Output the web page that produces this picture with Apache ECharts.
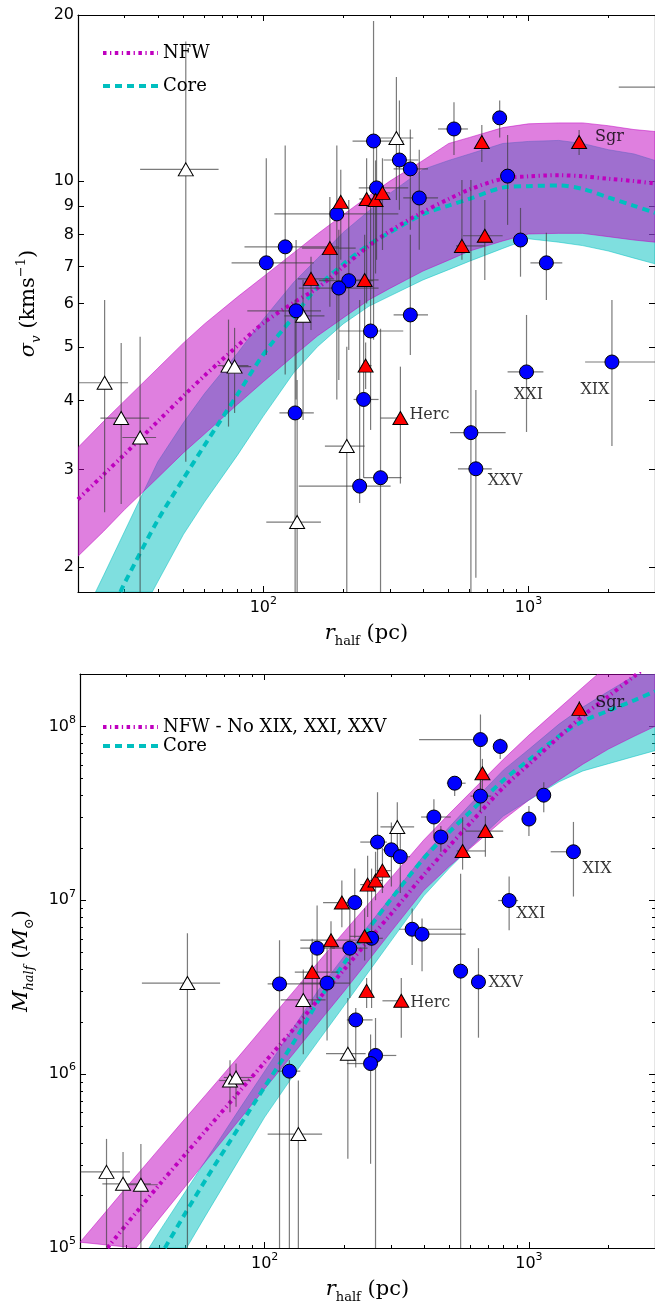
<!DOCTYPE html>
<html>
<head>
<meta charset="utf-8">
<script src="https://cdn.jsdelivr.net/npm/echarts@6/dist/echarts.min.js"></script>
<style>
  html, body { margin: 0; padding: 0; background: #fff; }
  #main { width: 655px; height: 1305px; }
</style>
</head>
<body>
<div id="main"></div>
<script>
// ---------- values ----------
// r_half grid (pc) for the model bands
var rGrid = [20, 25, 30, 40, 50, 60, 80, 100, 130, 160, 200, 250, 300, 400, 500, 600, 800, 1000, 1300, 1600, 2000, 2500, 3000];

// top panel, sigma_v (km/s)
var sigNfwHi  = [3.29, 3.67, 4.00, 4.58, 5.09, 5.51, 6.17, 6.71, 7.41, 8.02, 8.69, 9.40, 10.0, 10.9, 11.7, 12.0, 12.5, 12.7, 12.75, 12.75, 12.6, 12.4, 12.3];
var sigNfwMid = [2.65, 2.94, 3.20, 3.67, 4.08, 4.44, 5.03, 5.53, 6.02, 6.40, 6.99, 7.63, 8.12, 8.79, 9.28, 9.66, 10.1, 10.2, 10.25, 10.2, 10.1, 10.0, 9.9];
var sigNfwLo  = [2.09, 2.32, 2.54, 2.90, 3.22, 3.48, 3.94, 4.33, 4.82, 5.24, 5.65, 6.09, 6.39, 6.87, 7.19, 7.47, 7.79, 8.02, 8.04, 8.04, 7.93, 7.82, 7.75];

var rCoreHiTop  = [23.3, 25, 30, 40, 50, 60, 80, 100, 130, 160, 200, 250, 300, 400, 500, 600, 800, 1000, 1300, 1600, 2000, 2500, 3000];
var sigCoreHi   = [1.80, 1.93, 2.32, 3.10, 3.65, 4.12, 4.88, 5.62, 6.55, 7.24, 8.07, 8.83, 9.50, 10.5, 10.9, 11.2, 11.7, 11.8, 11.85, 11.7, 11.4, 11.2, 10.9];
var rCoreMidTop = [28.9, 30, 40, 50, 60, 80, 100, 130, 160, 200, 250, 300, 400, 500, 600, 800, 1000, 1300, 1600, 2000, 2500, 3000];
var sigCoreMid  = [1.80, 1.87, 2.43, 2.89, 3.32, 4.11, 4.85, 5.68, 6.42, 7.07, 7.67, 8.07, 8.71, 9.03, 9.29, 9.73, 9.79, 9.82, 9.68, 9.34, 9.02, 8.76];
var rCoreLoTop  = [38.1, 40, 50, 60, 80, 100, 130, 160, 200, 250, 300, 400, 500, 600, 800, 1000, 1300, 1600, 2000, 2500, 3000];
var sigCoreLo   = [1.80, 1.88, 2.29, 2.62, 3.19, 3.75, 4.49, 5.01, 5.51, 5.93, 6.19, 6.62, 6.91, 7.16, 7.55, 7.86, 7.75, 7.64, 7.47, 7.25, 7.08];

// bottom panel, M_half (Msun)
var mNfwHi = [1.08e5, 1.61e5, 2.24e5, 3.74e5, 5.55e5, 7.64e5, 1.27e6, 1.90e6, 3.05e6, 4.43e6, 6.59e6, 9.74e6, 1.34e7, 2.22e7, 3.15e7, 4.16e7, 6.46e7, 8.91e7, 1.27e8, 1.68e8, 2.26e8, 3.0e8, 3.8e8];
var rNfwMidBot = [25.4, 30, 40, 50, 60, 80, 100, 130, 160, 200, 250, 300, 400, 500, 600, 800, 1000, 1300, 1600, 2000, 2500, 3000];
var mNfwMid    = [1.0e5, 1.37e5, 2.32e5, 3.45e5, 4.76e5, 7.9e5, 1.17e6, 1.85e6, 2.7e6, 4.0e6, 6.0e6, 8.3e6, 1.4e7, 2.05e7, 2.78e7, 4.45e7, 6.05e7, 8.7e7, 1.15e8, 1.49e8, 1.94e8, 2.4e8];
var rNfwLoBot  = [32.6, 40, 50, 60, 80, 100, 130, 160, 200, 250, 300, 400, 500, 600, 800, 1000, 1300, 1600, 2000, 2500, 3000];
var mNfwLo     = [1.0e5, 1.48e5, 2.25e5, 3.17e5, 5.43e5, 8.24e5, 1.34e6, 1.98e6, 3.0e6, 4.61e6, 6.56e6, 1.14e7, 1.57e7, 1.99e7, 2.9e7, 3.77e7, 4.91e7, 6.06e7, 7.4e7, 8.76e7, 1.0e8];

var rCoreHiBot  = [36.5, 40, 50, 60, 80, 100, 130, 160, 200, 250, 300, 400, 500, 600, 800, 1000, 1300, 1600, 2000, 2500, 3000];
var mCoreHi     = [1.0e5, 1.25e5, 2.1e5, 3.21e5, 6.25e5, 1.04e6, 1.9e6, 3.06e6, 4.77e6, 7.33e6, 1.04e7, 1.81e7, 2.64e7, 3.56e7, 5.6e7, 7.38e7, 1.03e8, 1.29e8, 1.59e8, 1.95e8, 2.31e8];
var rCoreMidBot = [41.9, 50, 60, 80, 100, 130, 160, 200, 250, 300, 400, 500, 600, 800, 1000, 1300, 1600, 2000, 2500, 3000];
var mCoreMid    = [1.0e5, 1.58e5, 2.49e5, 4.97e5, 8.46e5, 1.56e6, 2.65e6, 4.35e6, 7.0e6, 1.01e7, 1.74e7, 2.47e7, 3.23e7, 4.9e7, 6.4e7, 8.79e7, 1.07e8, 1.23e8, 1.41e8, 1.59e8];
var rCoreLoBot  = [50.6, 60, 80, 100, 130, 160, 200, 250, 300, 400, 500, 600, 800, 1000, 1300, 1600, 2000, 2500, 3000];
var mCoreLo     = [1.0e5, 1.55e5, 3.22e5, 5.66e5, 1.01e6, 1.56e6, 2.48e6, 3.96e6, 5.8e6, 1.06e7, 1.53e7, 2.02e7, 3.05e7, 3.76e7, 4.8e7, 5.54e7, 6.1e7, 6.71e7, 7.25e7];

// galaxies: [r, value, rLo, rHi, valueLo, valueHi]
var topBlue = [
  [102.6, 7.11, 75.9, 155, 4.84, 11.0], [120.9, 7.60, 84.9, 192.6, 4.46, 11.6],
  [132.9, 5.82, 87, 165, 4.02, 7.82], [131.8, 3.80, 115, 155, 1.5, 6.09],
  [189.3, 8.72, 110, 323, 4.02, 11.6], [260.4, 11.82, 217, 338, 5.16, 19.5],
  [326, 10.92, 284, 384, 8.87, 14.0], [358.4, 10.52, 310, 418, 8.16, 12.4],
  [267.3, 9.72, 229, 352, 7.2, 11.9], [387.3, 9.32, 337, 456, 7.51, 11.4],
  [210, 6.60, 162, 260, 4.94, 9.24], [192.6, 6.40, 136, 272, 4.36, 8.16],
  [358.4, 5.72, 310, 418, 4.84, 7.99], [253.8, 5.35, 193, 337, 3.54, 9.24],
  [238.9, 4.02, 219, 272, 2.90, 5.37], [230.8, 2.80, 136, 302, 2.61, 6.09],
  [276.7, 2.90, 239, 332, 1.5, 5.4], [606.5, 3.50, 506, 820, 1.5, 10.05],
  [633.2, 3.01, 542, 727, 1.91, 4.18], [983, 4.51, 834, 1138, 3.51, 5.72],
  [2064, 4.70, 1635, 3042, 3.31, 6.09], [523.6, 12.43, 456, 591, 11.15, 13.9],
  [778.6, 13.02, 778.6, 778.6, 12.0, 14.0], [834, 10.21, 834, 834, 8.33, 12.12],
  [933, 7.82, 933, 933, 6.71, 8.94], [1168, 7.11, 1017, 1341, 6.09, 8.06],
  [4000, 14.8, 2190, 7000, 14.8, 14.8]
];
var topRed = [
  [195.9, 9.17, 195.9, 195.9, 7.2, 10.48], [245.2, 9.28, 230, 262, 6.0, 11.0],
  [265.0, 9.24, 250, 280, 6.8, 10.9], [281.4, 9.52, 265, 300, 7.5, 11.0],
  [178.2, 7.56, 140, 223, 5.92, 9.36], [151.3, 6.65, 135, 185, 5.37, 7.29],
  [241.0, 6.62, 216, 272, 5.37, 7.99], [666.8, 11.77, 666.8, 666.8, 10.83, 12.64],
  [1552, 11.77, 1552, 1552, 11.15, 12.38], [561, 7.63, 533, 684, 7.2, 10.05],
  [684.3, 7.96, 566, 799, 6.62, 9.24], [243.1, 4.63, 235, 256, 4.2, 5.1],
  [328.8, 3.72, 276.7, 328.8, 2.83, 4.61]
];
var topWhite = [
  [25.2, 4.31, 20.1, 30.9, 2.51, 6.09], [29.1, 3.72, 24.3, 37.1, 2.60, 5.09],
  [34.3, 3.43, 29.4, 39.4, 1.5, 5.22], [51.0, 10.5, 34.3, 67.8, 3.10, 17.9],
  [73.9, 4.63, 67.3, 87.9, 3.59, 5.61], [77.9, 4.61, 70, 90, 3.80, 5.42],
  [134.1, 2.41, 102.6, 164.9, 1.5, 4.36], [141.2, 5.70, 120, 170, 3.69, 6.62],
  [206.4, 3.31, 170.7, 241, 1.5, 5.01], [317.6, 11.97, 274.2, 367.8, 9.24, 15.44]
];

var botBlue = [
  [113.8, 3.30e6, 102.6, 176.7, 5e4, 5.89e6], [157.9, 5.30e6, 136.4, 184.5, 2.74e6, 9.33e6],
  [172.2, 3.34e6, 136.4, 210, 1.56e6, 5.30e6], [210, 5.30e6, 180, 245, 2.74e6, 1.02e7],
  [219.2, 9.70e6, 219.2, 219.2, 6.04e6, 1.52e7], [253.8, 6.04e6, 230, 280, 2.40e6, 1.52e7],
  [267.3, 2.16e7, 230, 290, 1.4e7, 4.18e7], [301.6, 1.95e7, 280, 325, 1.2e7, 2.8e7],
  [326, 1.78e7, 300, 355, 1.1e7, 2.6e7], [361.4, 6.81e6, 323.2, 556.3, 4.24e6, 8.97e6],
  [394, 6.38e6, 361.4, 575.9, 3.91e6, 7.86e6], [436.9, 3.01e7, 390.7, 506, 2.34e7, 3.81e7],
  [464.2, 2.31e7, 464.2, 464.2, 1.90e7, 2.67e7], [523.6, 4.71e7, 488.9, 575.9, 3.97e7, 5.16e7],
  [655.5, 8.39e7, 384, 661, 3.97e7, 1.17e8], [778.6, 7.66e7, 778.6, 778.6, 6.5e7, 8.5e7],
  [655.5, 3.97e7, 601, 720, 3.21e7, 4.96e7], [1138, 4.02e7, 1138, 1138, 3.21e7, 4.77e7],
  [1000, 2.93e7, 1000, 1000, 2.34e7, 3.48e7], [1474, 1.90e7, 1209, 1566, 1.05e7, 2.82e7],
  [841.6, 9.96e6, 765, 910, 6.71e6, 1.37e7], [551.4, 3.91e6, 551.4, 551.4, 5e4, 1.42e7],
  [644.2, 3.39e6, 644.2, 644.2, 1.62e6, 5.30e6], [221.1, 2.05e6, 204.6, 256, 1.09e6, 2.40e6],
  [262.7, 1.28e6, 256, 314.8, 5e4, 2.1e6], [251.6, 1.15e6, 204.6, 267.3, 3.05e5, 1.69e6],
  [124.0, 1.04e6, 111.9, 136.4, 5e4, 1.2e6]
];
var botRed = [
  [195.9, 9.70e6, 166.3, 223, 7.0e6, 1.3e7], [245.2, 1.23e7, 230, 262, 8e6, 1.8e7],
  [262.7, 1.30e7, 250, 280, 1.0e7, 1.9e7], [279, 1.48e7, 265, 300, 1.1e7, 2.0e7],
  [178.2, 5.89e6, 136.4, 223, 3.91e6, 7.56e6], [151.3, 3.86e6, 130, 190, 2.5e6, 6.0e6],
  [238.9, 6.20e6, 210, 270, 4.5e6, 9.0e6], [243.1, 3.01e6, 243.1, 243.1, 2.4e6, 3.57e6],
  [666.8, 5.37e7, 666.8, 666.8, 4.2e7, 6.5e7], [1552, 1.26e8, 1552, 1552, 1.12e8, 1.4e8],
  [561, 1.92e7, 533, 684, 1.5e7, 3.0e7], [684.3, 2.50e7, 575.9, 799, 1.78e7, 3.05e7],
  [328.8, 2.64e6, 279, 328.8, 1.62e6, 3.57e6]
];
var botWhite = [
  [25.2, 2.74e5, 20.1, 30.9, 5e4, 4.24e5], [29.1, 2.34e5, 24.3, 37.1, 5e4, 3.57e5],
  [34.0, 2.31e5, 29.4, 39.4, 5e4, 3.97e5], [51.0, 3.34e6, 34.3, 67.8, 5e4, 6.45e6],
  [73.9, 9.19e5, 67.3, 87.9, 6.04e5, 1.20e6], [77.9, 9.56e5, 70, 90, 6.5e5, 1.15e6],
  [134.1, 4.52e5, 102.6, 164.9, 5e4, 9.2e5], [140, 2.67e6, 115, 170, 1.3e6, 4.0e6],
  [206.4, 1.31e6, 170.7, 241, 3.26e5, 2.74e6], [317.6, 2.64e7, 274.2, 367.8, 1.73e7, 3.66e7]
];

// named galaxies
var nameList = ['Sgr', 'Herc', 'XXI', 'XIX', 'XXV'];
var topNameR = [1552, 328.8, 983, 2064, 633.2];
var topNameV = [11.77, 3.72, 4.51, 4.70, 3.01];
var botNameR = [1552, 328.8, 841.6, 1474, 644.2];
var botNameV = [1.26e8, 2.64e6, 9.96e6, 1.90e7, 3.39e6];

// ticks
var xMajor = [100, 1000];
var xMinor = [20, 30, 40, 50, 60, 70, 80, 90, 200, 300, 400, 500, 600, 700, 800, 900, 2000, 3000];
var sigTicks = [2, 3, 4, 5, 6, 7, 8, 9, 10, 20];
var mMajor = [1e5, 1e6, 1e7, 1e8];
var mMinor = [2e5, 3e5, 4e5, 5e5, 6e5, 7e5, 8e5, 9e5, 2e6, 3e6, 4e6, 5e6, 6e6, 7e6, 8e6, 9e6,
              2e7, 3e7, 4e7, 5e7, 6e7, 7e7, 8e7, 9e7, 2e8];

// ---------- styling ----------
var SANS = 'DejaVu Sans', SERIF = 'DejaVu Serif';
var nfwColor = '#bf00bf', coreColor = '#00bfbf';
var nfwFill = 'rgba(191,0,191,0.5)', coreFill = 'rgba(0,191,191,0.5)';
var nfwDash = [3.5, 3.5, 1.3, 3.5], coreDash = [7, 5];
var errStyle = { stroke: 'rgba(60,60,60,0.68)', lineWidth: 1.2 };

// label offsets [dx, dy, align] around the marker
var nameOffTop = { Sgr: [16, -5, 'left'], Herc: [9, -3, 'left'], XXI: [2, 23, 'center'], XIX: [-17, 28, 'center'], XXV: [12, 12, 'left'] };
var nameOffBot = { Sgr: [16, -6, 'left'], Herc: [9, 2, 'left'], XXI: [7, 13, 'left'], XIX: [9, 17, 'left'], XXV: [10, 1, 'left'] };

function pairs(rs, vs) {
  return rs.map(function (r, i) { return [r, vs[i]]; });
}

function powLabel(v) {
  return '{b|10}{s|' + Math.round(Math.log(v) / Math.LN10) + '}';
}
var powRich = {
  b: { fontFamily: SANS, fontSize: 16, color: '#000', lineHeight: 24 },
  s: { fontFamily: SANS, fontSize: 11, color: '#000', lineHeight: 8, verticalAlign: 'top' }
};
var titleRich = {
  i: { fontFamily: SERIF, fontStyle: 'italic', fontSize: 21, color: '#000' },
  sub: { fontFamily: SERIF, fontSize: 13, color: '#000', verticalAlign: 'bottom', lineHeight: 12 },
  isub: { fontFamily: SERIF, fontStyle: 'italic', fontSize: 13, color: '#000', verticalAlign: 'bottom', lineHeight: 12 },
  sup: { fontFamily: SERIF, fontSize: 13, color: '#000', verticalAlign: 'top', lineHeight: 12 }
};
var titleStyle = { fontFamily: SERIF, fontSize: 21, color: '#000', lineHeight: 28, rich: titleRich };

function ticks(vals, len) {
  return { show: true, inside: true, length: len, customValues: vals, lineStyle: { color: '#000', width: 1 } };
}
var spine = { show: true, lineStyle: { color: '#000', width: 1.2 } };

// four axes per side pair: main (labels + major ticks), minor ticks, and the mirrored pair
function makeAxes(dim, g, min, max, major, minor, label, title, gap) {
  var common = { type: 'log', logBase: 10, gridIndex: g, min: min, max: max, splitLine: { show: false } };
  var near = dim === 'x' ? 'bottom' : 'left', far = dim === 'x' ? 'top' : 'right';
  return [
    Object.assign({}, common, {
      position: near, axisLine: spine, axisTick: ticks(major, 6),
      axisLabel: label, name: title, nameLocation: 'middle', nameGap: gap, nameTextStyle: titleStyle
    }),
    Object.assign({}, common, { position: near, axisLine: { show: false }, axisTick: ticks(minor, 3), axisLabel: { show: false } }),
    Object.assign({}, common, { position: far, axisLine: spine, axisTick: ticks(major, 6), axisLabel: { show: false } }),
    Object.assign({}, common, { position: far, axisLine: { show: false }, axisTick: ticks(minor, 3), axisLabel: { show: false } })
  ];
}

var xLabel = { show: true, customValues: xMajor, formatter: powLabel, margin: 4, rich: powRich };
var xTitle = '{i|r}{sub|half} (pc)';

var xAxes = makeAxes('x', 0, 20, 3000, xMajor, xMinor, xLabel, xTitle, 28)
  .concat(makeAxes('x', 1, 20, 3000, xMajor, xMinor, xLabel, xTitle, 28));

var yAxes = makeAxes('y', 0, 1.8, 20, sigTicks, [], {
    show: true, customValues: sigTicks, margin: 4,
    fontFamily: SANS, fontSize: 16, color: '#000', formatter: function (v) { return String(Math.round(v)); }
  }, '{i|σ}{isub|v} (kms{sup|−1})', 33)
  .concat(makeAxes('y', 1, 1e5, 2e8, mMajor, mMinor, {
    show: true, customValues: mMajor, formatter: powLabel, margin: 4, rich: powRich
  }, '{i|M}{isub|half} ({i|M}{sub|⊙})', 44));

function bandSeries(up, lo, fill, g) {
  var pts = up.concat(lo.slice().reverse());
  return {
    type: 'custom', xAxisIndex: g * 4, yAxisIndex: g * 4, clip: true, silent: true, z: 1,
    data: [up[0]],
    renderItem: function (params, api) {
      return {
        type: 'polygon',
        shape: { points: pts.map(function (p) { return api.coord(p); }) },
        style: { fill: fill, stroke: fill, lineWidth: 1 }
      };
    }
  };
}

function lineSeries(name, pts, color, dash, g) {
  return {
    type: 'line', name: name, xAxisIndex: g * 4, yAxisIndex: g * 4, data: pts, z: 2,
    showSymbol: false, symbol: 'none', smooth: 0.3, silent: true, clip: true,
    lineStyle: { color: color, width: 4, type: dash }
  };
}

function errSeries(rows, g) {
  return {
    type: 'custom', xAxisIndex: g * 4, yAxisIndex: g * 4, clip: true, silent: true, z: 3,
    encode: { x: [0, 2, 3], y: [1, 4, 5] },
    data: rows,
    renderItem: function (params, api) {
      var c = api.coord([api.value(0), api.value(1)]);
      var xl = api.coord([api.value(2), api.value(1)]);
      var xh = api.coord([api.value(3), api.value(1)]);
      var yl = api.coord([api.value(0), api.value(4)]);
      var yh = api.coord([api.value(0), api.value(5)]);
      return {
        type: 'group', children: [
          { type: 'line', shape: { x1: xl[0], y1: c[1], x2: xh[0], y2: c[1] }, style: errStyle },
          { type: 'line', shape: { x1: c[0], y1: yl[1], x2: c[0], y2: yh[1] }, style: errStyle }
        ]
      };
    }
  };
}

function markerSeries(rows, symbol, size, color, g) {
  return {
    type: 'scatter', xAxisIndex: g * 4, yAxisIndex: g * 4, symbol: symbol, symbolSize: size,
    silent: true, z: 4, clip: true,
    itemStyle: { color: color, borderColor: '#000', borderWidth: 1, opacity: 1 },
    data: rows.map(function (r) { return [r[0], r[1]]; })
  };
}

function nameSeries(rs, vs, offs, g) {
  return {
    type: 'scatter', xAxisIndex: g * 4, yAxisIndex: g * 4, symbolSize: 0.1, silent: true, z: 6,
    itemStyle: { color: 'rgba(0,0,0,0)' },
    data: nameList.map(function (n, i) {
      var o = offs[n];
      return {
        name: n, value: [rs[i], vs[i]],
        label: { show: true, position: 'inside', formatter: '{b}', offset: [o[0], o[1]], align: o[2],
                 verticalAlign: 'middle', fontFamily: SERIF, fontSize: 16, color: '#000' }
      };
    })
  };
}

var series = [
  // top panel
  bandSeries(pairs(rCoreHiTop, sigCoreHi), pairs(rCoreLoTop, sigCoreLo), coreFill, 0),
  bandSeries(pairs(rGrid, sigNfwHi), pairs(rGrid, sigNfwLo), nfwFill, 0),
  lineSeries('Core', pairs(rCoreMidTop, sigCoreMid), coreColor, coreDash, 0),
  lineSeries('NFW', pairs(rGrid, sigNfwMid), nfwColor, nfwDash, 0),
  errSeries(topWhite.concat(topBlue, topRed), 0),
  markerSeries(topWhite, 'triangle', [15, 13], '#ffffff', 0),
  markerSeries(topBlue, 'circle', 14, '#0000ff', 0),
  markerSeries(topRed, 'triangle', [15, 13], '#ff0000', 0),
  nameSeries(topNameR, topNameV, nameOffTop, 0),
  // bottom panel
  bandSeries(pairs(rCoreHiBot, mCoreHi), pairs(rCoreLoBot, mCoreLo), coreFill, 1),
  bandSeries(pairs(rGrid, mNfwHi), pairs(rNfwLoBot, mNfwLo), nfwFill, 1),
  lineSeries('Core ', pairs(rCoreMidBot, mCoreMid), coreColor, coreDash, 1),
  lineSeries('NFW - No XIX, XXI, XXV', pairs(rNfwMidBot, mNfwMid), nfwColor, nfwDash, 1),
  errSeries(botWhite.concat(botBlue, botRed), 1),
  markerSeries(botWhite, 'triangle', [15, 13], '#ffffff', 1),
  markerSeries(botBlue, 'circle', 14, '#0000ff', 1),
  markerSeries(botRed, 'triangle', [15, 13], '#ff0000', 1),
  nameSeries(botNameR, botNameV, nameOffBot, 1)
];

// legend drawn as plain graphics (line samples + text)
function legendItem(x, y, color, dash, text) {
  return [
    { type: 'line', shape: { x1: x, y1: y, x2: x + 55, y2: y }, style: { stroke: color, lineWidth: 4, lineDash: dash }, z: 10 },
    { type: 'text', x: x + 60, y: y, style: { text: text, fill: '#000', font: '18px "' + SERIF + '"', verticalAlign: 'middle' }, z: 10 }
  ];
}
var graphics = [].concat(
  legendItem(103, 53, nfwColor, nfwDash, 'NFW'),
  legendItem(103, 86, coreColor, coreDash, 'Core'),
  legendItem(103, 727, nfwColor, nfwDash, 'NFW - No XIX, XXI, XXV'),
  legendItem(103, 746, coreColor, coreDash, 'Core')
);

var chart = echarts.init(document.getElementById('main'), null, { renderer: 'canvas' });
chart.setOption({
  animation: false,
  backgroundColor: '#fff',
  grid: [
    { left: 78, top: 15, width: 580, height: 577 },
    { left: 78, top: 674, width: 580, height: 577 }
  ],
  xAxis: xAxes,
  yAxis: yAxes,
  series: series,
  graphic: graphics
});
</script>
</body>
</html>
